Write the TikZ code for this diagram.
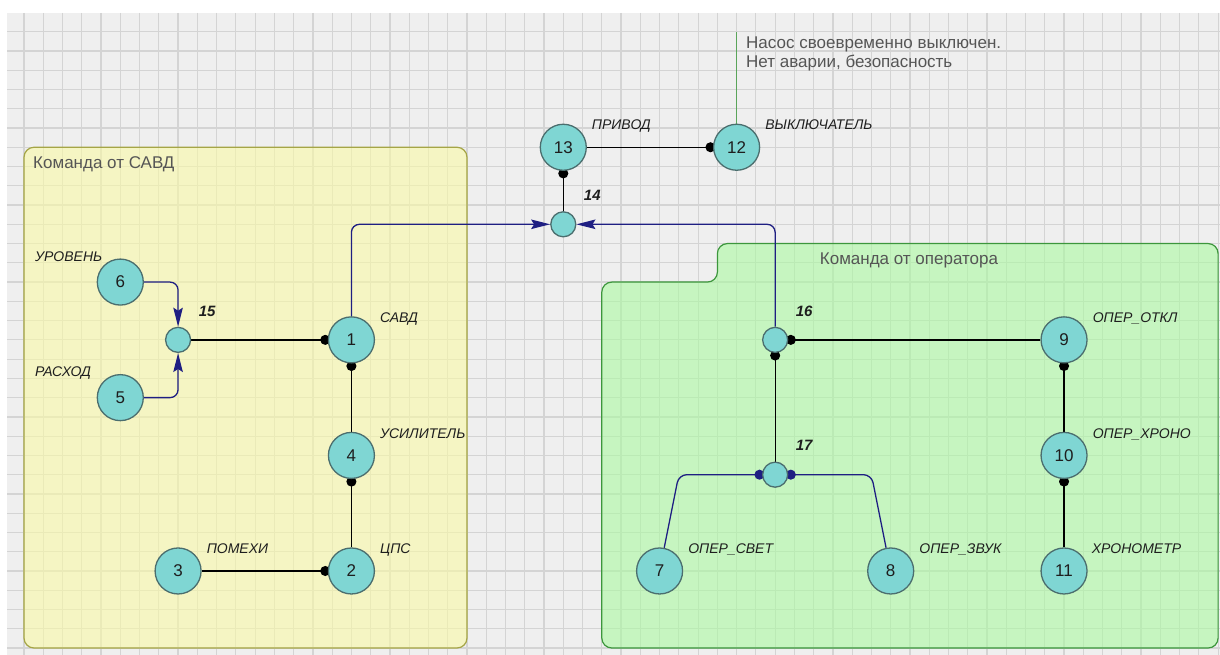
\documentclass[tikz,border=0pt]{standalone}
\usepackage{fontspec}
\setmainfont{Liberation Sans}
\usetikzlibrary{arrows.meta}
\pgfdeclarelayer{back}
\pgfdeclarelayer{edges}
\pgfsetlayers{back,edges,main}
\definecolor{bgc}{RGB}{239,239,239}
\definecolor{gridc}{RGB}{212,212,212}
\definecolor{yfill}{RGB}{249,249,166}
\definecolor{ydraw}{RGB}{165,165,70}
\definecolor{gfill}{RGB}{171,249,161}
\definecolor{gdraw}{RGB}{60,150,60}
\definecolor{nfill}{RGB}{127,214,211}
\definecolor{ndraw}{RGB}{75,110,110}
\definecolor{navyc}{RGB}{30,30,130}
\definecolor{glinec}{RGB}{90,165,90}
\definecolor{titlec}{RGB}{85,85,85}
\definecolor{labc}{RGB}{30,30,30}
\tikzset{
  gridline/.style={draw=gridc, line width=1.2pt},
  ybox/.style={fill=yfill, fill opacity=0.6, draw=ydraw, draw opacity=1, line width=1.2pt, rounded corners=10pt},
  gbox/.style={fill=gfill, fill opacity=0.6, draw=gdraw, draw opacity=1, line width=1.2pt, rounded corners=10pt},
  big/.style={circle, fill=nfill, draw=ndraw, line width=1.3pt, minimum size=46pt, inner sep=0pt, text=labc, font=\fontsize{17}{20}\selectfont},
  small/.style={circle, fill=nfill, draw=ndraw, line width=1.3pt, minimum size=25pt, inner sep=0pt},
  lab/.style={anchor=base west, inner sep=0pt, text=labc, font=\fontsize{14}{16}\selectfont\itshape},
  slab/.style={anchor=base west, inner sep=0pt, text=labc, font=\fontsize{15}{17}\selectfont\bfseries\itshape},
  grp/.style={inner sep=0pt, text=titlec, font=\fontsize{17}{20}\selectfont},
  dotc/.style={draw=black, line width=1.3pt, shorten >=-2.5pt, -{Circle[length=10pt]}},
  bdotc/.style={draw=navyc, line width=1.3pt, rounded corners=8pt, shorten >=-2.5pt, -{Circle[length=10pt]}},
  barrow/.style={draw=navyc, line width=1.3pt, rounded corners=8pt, -{Stealth[length=19pt,width=9.5pt,inset=3pt]}},
}
\begin{document}
\begin{tikzpicture}[x=1pt,y=-1pt]
\useasboundingbox (0,0) rectangle (1220,655);
\begin{pgfonlayer}{back}
\fill[white] (0,0) rectangle (1220,655);
\fill[bgc] (7,13) rectangle (1220,655);
\foreach \i in {0,...,62} \draw[gridline] ({24+19.26*\i},13) -- ({24+19.26*\i},655);
\foreach \j in {0,...,32} \draw[gridline] (7,{31.7+19.26*\j}) -- (1220,{31.7+19.26*\j});
% group boxes
\draw[ybox] (24,147.26) rectangle (467,648);
\draw[gbox] (601.8,282.08) -- (717.4,282.08) -- (717.4,243.56) -- (1218.1,243.56) -- (1218.1,648) -- (601.8,648) -- cycle;
\end{pgfonlayer}
\node[grp, anchor=west] (tS) at (33,164) {Команда от САВД};
\node[grp] (tO) at (909,260.7) {Команда от оператора};

% nodes
\node[big] (n13) at (563.28,147.26) {13};
\node[big] (n12) at (736.62,147.26) {12};
\node[small] (n14) at (563.28,224.3) {};
\node[big] (n1) at (351.42,339.86) {1};
\node[small] (n15) at (178.08,339.86) {};
\node[big] (n6) at (120.3,282.08) {6};
\node[big] (n5) at (120.3,397.64) {5};
\node[big] (n4) at (351.42,455.42) {4};
\node[big] (n2) at (351.42,570.98) {2};
\node[big] (n3) at (178.08,570.98) {3};
\node[small] (n16) at (775.14,339.86) {};
\node[big] (n9) at (1064.04,339.86) {9};
\node[small] (n17) at (775.14,474.68) {};
\node[big] (n10) at (1064.04,455.42) {10};
\node[big] (n11) at (1064.04,570.98) {11};
\node[big] (n7) at (659.58,570.98) {7};
\node[big] (n8) at (890.7,570.98) {8};

% labels
\node[lab] (l13) at ([shift={(28.5,-17.3)}]n13.center) {ПРИВОД};
\node[lab] (l12) at ([shift={(28.5,-17.3)}]n12.center) {ВЫКЛЮЧАТЕЛЬ};
\node[lab] (l1) at ([shift={(28.5,-17.3)}]n1.center) {САВД};
\node[lab] (l4) at ([shift={(28.5,-17.3)}]n4.center) {УСИЛИТЕЛЬ};
\node[lab] (l2) at ([shift={(28.5,-17.3)}]n2.center) {ЦПС};
\node[lab] (l3) at ([shift={(28.5,-17.3)}]n3.center) {ПОМЕХИ};
\node[lab] (l9) at ([shift={(28.5,-17.3)}]n9.center) {ОПЕР\_ОТКЛ};
\node[lab] (l10) at ([shift={(28.5,-17.3)}]n10.center) {ОПЕР\_ХРОНО};
\node[lab] (l11) at ([shift={(27.5,-17.3)}]n11.center) {ХРОНОМЕТР};
\node[lab] (l7) at ([shift={(28.5,-17.3)}]n7.center) {ОПЕР\_СВЕТ};
\node[lab] (l8) at ([shift={(28.5,-17.3)}]n8.center) {ОПЕР\_ЗВУК};
\node[lab] (l6) at (35,261) {УРОВЕНЬ};
\node[lab] (l5) at (35,376) {РАСХОД};
\node[slab] (l14) at ([shift={(20.5,-23.8)}]n14.center) {14};
\node[slab] (l15) at ([shift={(20.5,-23.8)}]n15.center) {15};
\node[slab] (l16) at ([shift={(20.5,-23.8)}]n16.center) {16};
\node[slab] (l17) at ([shift={(20.5,-23.8)}]n17.center) {17};

% note
\coordinate (gtop) at (736.62,31.7);
\node[grp, anchor=base west] (note1) at (746,48.3) {Насос своевременно выключен.};
\node[grp, anchor=base west] (note2) at (746,67.7) {Нет аварии, безопасность};

% connectors
\begin{pgfonlayer}{edges}
\draw[draw=glinec, line width=1.2pt] (n12) -- (gtop);
\draw[dotc] (n13) -- (n12);
\draw[dotc] (n14) -- (n13);
\draw[dotc] (n15) -- (n1);
\draw[dotc] (n4) -- (n1);
\draw[dotc] (n2) -- (n4);
\draw[dotc] (n3) -- (n2);
\draw[dotc] (n9) -- (n16);
\draw[dotc] (n17) -- (n16);
\draw[dotc] (n10) -- (n9);
\draw[dotc] (n11) -- (n10);
\draw[barrow] (n1) |- (n14);
\draw[barrow] (n16) |- (n14);
\draw[barrow] (n6) -| (n15);
\draw[barrow] (n5) -| (n15);
\coordinate (c7) at (678.84,474.68);
\coordinate (c8) at (871.44,474.68);
\draw[bdotc] (n7) -- (c7) -- (n17);
\draw[bdotc] (n8) -- (c8) -- (n17);
\end{pgfonlayer}
\end{tikzpicture}
\end{document}
